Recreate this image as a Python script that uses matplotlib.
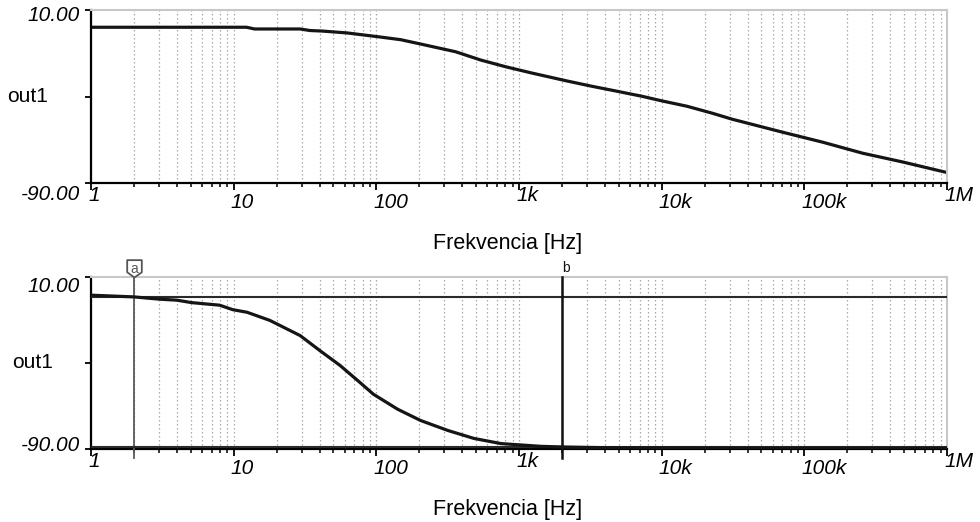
import numpy as np
import matplotlib.pyplot as plt
import matplotlib.transforms as mtransforms
from matplotlib.path import Path
from matplotlib.ticker import FixedLocator, NullFormatter

plt.rcParams['font.family'] = ['Liberation Sans', 'DejaVu Sans']

# upper trace: out1 vs frequency
f_top = [1, 12.3, 14, 29.2, 34.3, 41.7, 62.5, 103, 148, 204, 360, 540, 809, 1215,
         2143, 3213, 4446, 7230, 10000, 15000, 22500, 31100, 70000, 134000,
         256000, 490000, 1000000]
v_top = [0.3, 0.3, -0.7, -0.7, -1.6, -1.9, -3.0, -5.2, -6.9, -9.4, -13.9, -18.7,
         -22.6, -26.1, -30.7, -33.8, -36.1, -39.6, -42.3, -45.4, -49.4, -52.9,
         -60.4, -66.2, -72.6, -77.7, -83.8]

# lower trace
f_bot = [1, 2, 3, 4, 5.06, 6.05, 7.97, 9.84, 12.4, 17.9, 29.2, 40.3, 55.8, 77.2,
         95.3, 141, 204, 317, 482, 747, 1033, 1429, 2143, 5000, 1000000]
v_bot = [-0.7, -1.7, -3.0, -3.6, -5.0, -5.6, -6.5, -9.1, -10.6, -15.3, -24.1, -32.9,
         -41.5, -51.5, -58.1, -66.8, -73.3, -79.1, -83.7, -86.7, -87.5, -88.3,
         -88.7, -89.2, -89.5]

# cursors on the lower plot
cursor_names = ['a', 'b']
cursor_freqs = [2, 2000]
cursor_levels = [-1.6, -88.7]

xticks = [1, 10, 100, 1e3, 1e4, 1e5, 1e6]
xticklabels = ['1', '10', '100', '1k', '10k', '100k', '1M']
xminor = [m * 10 ** d for d in range(6) for m in range(2, 10)]
yticks = [10, -40, -90]
yticklabels = ['10.00', '', '-90.00']

fig = plt.figure(figsize=(9.8, 5.22), dpi=100)
ax1 = fig.add_axes([0.0929, 0.6489, 0.8735, 0.331])
ax2 = fig.add_axes([0.0929, 0.1393, 0.8735, 0.3306])


def nudge(lbl, dx, dy):
    # shift a label by dx, dy pixels
    lbl.set_transform(lbl.get_transform() +
                      mtransforms.ScaledTranslation(dx / 100, dy / 100, fig.dpi_scale_trans))


def style(ax, ylab_x, ynudge):
    ax.set_xscale('log')
    ax.set_xlim(1, 1e6)
    ax.set_ylim(-90, 10)
    ax.xaxis.set_major_locator(FixedLocator(xticks))
    ax.xaxis.set_minor_locator(FixedLocator(xminor))
    ax.xaxis.set_minor_formatter(NullFormatter())
    ax.set_xticklabels(xticklabels)
    ax.set_yticks(yticks)
    ax.set_yticklabels(yticklabels)
    ax.grid(True, which='both', axis='x', ls=(0, (1.2, 2)), color='#a8a8a8', lw=0.9)
    ax.set_axisbelow(True)
    for s in ['top', 'right']:
        ax.spines[s].set_color('#c8c8c8')
        ax.spines[s].set_linewidth(1.5)
    for s in ['left', 'bottom']:
        ax.spines[s].set_color('black')
        ax.spines[s].set_linewidth(1.6)
    ax.tick_params(axis='x', which='major', length=5, width=1.3, pad=2.0, labelsize=15)
    ax.tick_params(axis='x', which='minor', length=3, width=1.1)
    ax.tick_params(axis='y', which='major', length=4, width=1.3, pad=4, labelsize=15)
    ax.set_xlabel('Frekvencia [Hz]', fontsize=15.5)
    ax.xaxis.set_label_coords(0.486, -0.29)
    ax.set_ylabel('out1', fontsize=15, rotation=0, ha='right', va='center')
    ax.yaxis.set_label_coords(ylab_x, 0.5)
    for lbl in ax.get_xticklabels():
        lbl.set_fontstyle('italic')
        lbl.set_ha('left')
        up = 7 if lbl.get_text() in ('1', '1k', '1M') else 0
        nudge(lbl, -3, up)
    for lbl, dy in zip(ax.get_yticklabels(), ynudge):
        lbl.set_fontstyle('italic')
        nudge(lbl, 0, dy)


style(ax1, -0.05, [-3, 0, -9])
style(ax2, -0.044, [-8, 0, 6])

ax1.plot(f_top, v_top, color='#151515', lw=2.3, solid_joinstyle='round')
ax2.plot(f_bot, v_bot, color='#151515', lw=2.3, solid_joinstyle='round', zorder=4)

# cursor a: tag marker with a pointed bottom
tag = Path([(0, 0), (0.42, 0.3), (0.42, 1.0), (-0.42, 1.0), (-0.42, 0.3), (0, 0)],
           [Path.MOVETO, Path.LINETO, Path.LINETO, Path.LINETO, Path.LINETO, Path.CLOSEPOLY])
trans = ax2.get_xaxis_transform()
cols = ['#5a5a5a', '#111111']
for name, f, lev, c in zip(cursor_names, cursor_freqs, cursor_levels, cols):
    ax2.axhline(lev, color='#2a2a2a', lw=1.5, zorder=3)
    ax2.plot([f, f], [-0.052, 1.0], transform=trans, color=c,
             lw=1.3 if name == 'a' else 1.8, clip_on=False, zorder=3)
    if name == 'a':
        ax2.plot([f], [1.0], transform=trans, marker=tag, ms=25, mfc='white',
                 mec='#555555', mew=1.3, clip_on=False, zorder=5)
        ax2.text(f, 1.045, name, transform=trans, ha='center', va='center',
                 fontsize=10, color='#555555', zorder=6)
    else:
        ax2.text(f, 1.05, name, transform=trans, ha='left', va='center',
                 fontsize=10, color='#111111')

fig.savefig('out.png', dpi=100)
